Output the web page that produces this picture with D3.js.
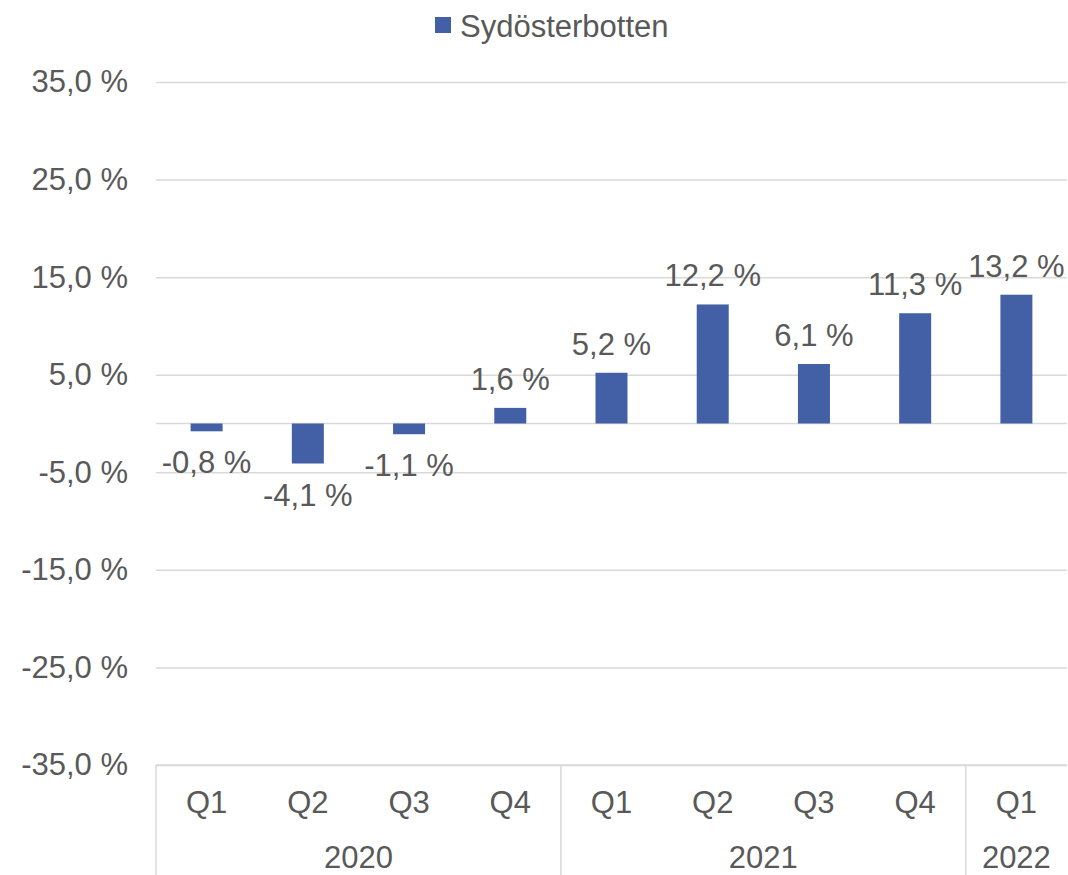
<!DOCTYPE html>
<html>
<head>
<meta charset="utf-8">
<script src="https://cdn.jsdelivr.net/npm/d3@7"></script>
<style>
  body { margin: 0; background: #fff; }
  text { font-family: "Liberation Sans", Arial, sans-serif; fill: #595959; }
</style>
</head>
<body>
<div id="chart"></div>
<script>
// data
const quarters = ['Q1', 'Q2', 'Q3', 'Q4', 'Q1', 'Q2', 'Q3', 'Q4', 'Q1'];
const years = ['2020', '2020', '2020', '2020', '2021', '2021', '2021', '2021', '2022'];
const values = [-0.8, -4.1, -1.1, 1.6, 5.2, 12.2, 6.1, 11.3, 13.2];
const yTicks = [-35, -25, -15, -5, 5, 15, 25, 35];
const seriesName = 'Sydösterbotten';

const width = 1068;
const height = 875;
const margin = { top: 82, right: 1, bottom: 110, left: 156 };
const barColor = '#4360a6';
const gridColor = '#d9d9d9';
const fontSize = 31;

const locale = d3.formatLocale({ decimal: ',', thousands: ' ', grouping: [3], currency: ['', ''], minus: '-' });
const fmt = v => locale.format('.1f')(v) + ' %';

const svg = d3.select('#chart')
  .append('svg')
  .attr('width', width)
  .attr('height', height);

const x = d3.scaleBand()
  .domain(d3.range(values.length))
  .range([margin.left, width - margin.right])
  .paddingInner(0)
  .paddingOuter(0);

const y = d3.scaleLinear()
  .domain([-35, 35])
  .range([height - margin.bottom, margin.top]);

// grid + y labels
svg.append('g')
  .attr('transform', 'translate(' + margin.left + ',0)')
  .call(d3.axisLeft(y)
    .tickValues(yTicks)
    .tickSize(-(width - margin.left - margin.right))
    .tickPadding(28)
    .tickFormat(fmt))
  .call(g => g.select('.domain').remove())
  .call(g => g.selectAll('.tick line').attr('stroke', gridColor).attr('stroke-width', 1.5))
  .call(g => g.selectAll('.tick text')
    .attr('font-size', fontSize)
    .attr('fill', '#595959')
    .style('font-family', '"Liberation Sans", Arial, sans-serif'));

// zero line
svg.append('line')
  .attr('x1', margin.left)
  .attr('x2', width - margin.right)
  .attr('y1', y(0))
  .attr('y2', y(0))
  .attr('stroke', gridColor)
  .attr('stroke-width', 1.5);

// bars
const barW = 32;
svg.append('g')
  .selectAll('rect')
  .data(values)
  .join('rect')
  .attr('x', (d, i) => x(i) + x.bandwidth() / 2 - barW / 2)
  .attr('width', barW)
  .attr('y', d => y(Math.max(0, d)))
  .attr('height', d => Math.abs(y(d) - y(0)))
  .attr('fill', barColor);

// data labels
svg.append('g')
  .selectAll('text')
  .data(values)
  .join('text')
  .attr('x', (d, i) => x(i) + x.bandwidth() / 2)
  .attr('y', d => d >= 0 ? y(d) - 18 : y(d) + 42)
  .attr('text-anchor', 'middle')
  .attr('font-size', fontSize)
  .text(fmt);

// category axis
const axisY = y(-35);
svg.append('line')
  .attr('x1', margin.left)
  .attr('x2', width - margin.right)
  .attr('y1', axisY)
  .attr('y2', axisY)
  .attr('stroke', gridColor)
  .attr('stroke-width', 1.5);

svg.append('g')
  .selectAll('text')
  .data(quarters)
  .join('text')
  .attr('x', (d, i) => x(i) + x.bandwidth() / 2)
  .attr('y', axisY + 48)
  .attr('text-anchor', 'middle')
  .attr('font-size', fontSize)
  .text(d => d);

// year groups
const groups = d3.groups(years.map((yr, i) => ({ yr, i })), d => d.yr);
svg.append('g')
  .selectAll('text')
  .data(groups)
  .join('text')
  .attr('x', d => (x(d[1][0].i) + x(d[1][d[1].length - 1].i) + x.bandwidth()) / 2)
  .attr('y', axisY + 103)
  .attr('text-anchor', 'middle')
  .attr('font-size', fontSize)
  .text(d => d[0]);

const seps = [margin.left].concat(groups.slice(1).map(d => x(d[1][0].i)));
svg.append('g')
  .selectAll('line')
  .data(seps)
  .join('line')
  .attr('x1', d => d)
  .attr('x2', d => d)
  .attr('y1', axisY)
  .attr('y2', height)
  .attr('stroke', gridColor)
  .attr('stroke-width', 1.5);

// legend
const legend = svg.append('g').attr('transform', 'translate(435,17)');
legend.append('rect')
  .attr('width', 16)
  .attr('height', 16)
  .attr('fill', barColor);
legend.append('text')
  .attr('x', 25)
  .attr('y', 20)
  .attr('font-size', fontSize)
  .text(seriesName);
</script>
</body>
</html>
